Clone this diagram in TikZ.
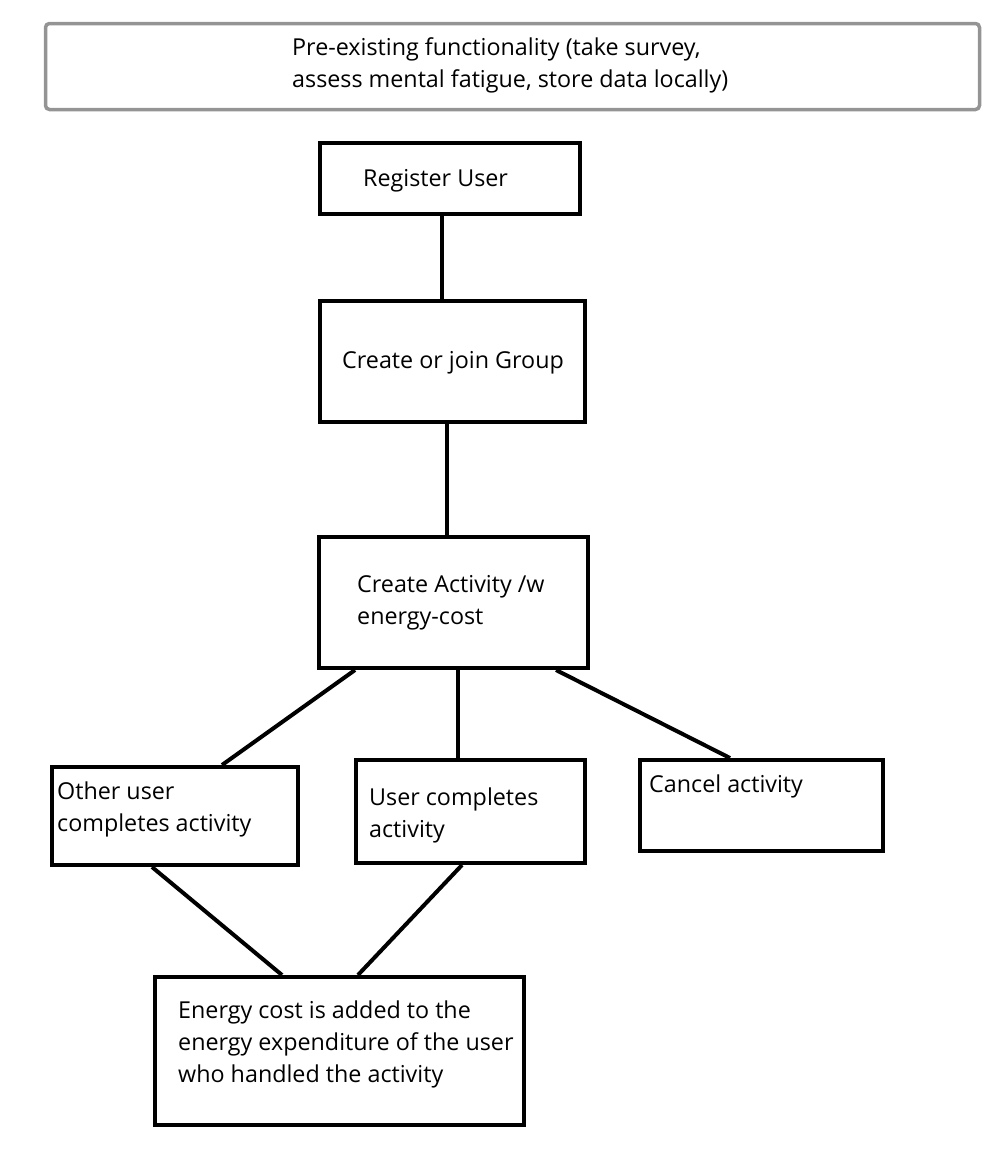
\documentclass[tikz,border=0pt]{standalone}
\usepackage{fontspec}
\setmainfont{Open Sans}
\begin{document}
\begin{tikzpicture}[x=1pt,y=-1pt,
  box/.style={draw=black, line width=4pt, fill=white, inner sep=0pt},
  topbox/.style={draw=black!42, line width=3.5pt, rounded corners=4pt, inner sep=0pt},
  lbl/.style={inner sep=0pt, align=left, font=\fontsize{23.3}{32}\selectfont, anchor=base west},
  link/.style={line width=4pt}]
  % canvas
  \useasboundingbox (0,0) rectangle (993,1154);

  % boxes
  \node[topbox, minimum width=934pt, minimum height=86pt] (pre) at (512.5,66.5) {};
  \node[box, minimum width=260pt, minimum height=71pt]  (reg) at (450,178.5) {};
  \node[box, minimum width=265pt, minimum height=121pt] (grp) at (452.5,361.5) {};
  \node[box, minimum width=269pt, minimum height=131pt] (act) at (453.5,602.5) {};
  \node[box, minimum width=246pt, minimum height=98pt]  (oth) at (175,816) {};
  \node[box, minimum width=229pt, minimum height=103pt] (usr) at (470.5,811.5) {};
  \node[box, minimum width=243pt, minimum height=91pt]  (can) at (761.5,805.5) {};
  \node[box, minimum width=369pt, minimum height=148pt] (eng) at (339.5,1051) {};

  % labels (anchored at the baseline of their last line)
  \node[lbl] (pret) at (292,87) {Pre-existing functionality (take survey,\\assess mental fatigue, store data locally)};
  \node[lbl] (regt) at (363,186) {Register User};
  \node[lbl] (grpt) at (342,368) {Create or join Group};
  \node[lbl] (actt) at (357,624) {Create Activity /w\\energy-cost};
  \node[lbl] (otht) at (57,831) {Other user\\completes activity};
  \node[lbl] (usrt) at (369,837) {User completes\\activity};
  \node[lbl] (cant) at (649,792) {Cancel activity};
  \node[lbl] (engt) at (178,1082) {Energy cost is added to the\\energy expenditure of the user\\who handled the activity};

  % connectors
  \draw[link] ([xshift=-8pt]reg.south) -- ([xshift=-8pt]reg.south |- grp.north);
  \draw[link] ([xshift=-5.5pt]grp.south) -- ([xshift=-5.5pt]grp.south |- act.north);
  \draw[link] ([xshift=-98.5pt]act.south) -- ([xshift=47pt]oth.north);
  \draw[link] ([xshift=4.5pt]act.south) -- ([xshift=4.5pt]act.south |- usr.north);
  \draw[link] ([xshift=102.5pt]act.south) -- ([xshift=-31.5pt]can.north);
  \draw[link] ([xshift=-23pt]oth.south) -- ([xshift=-57.5pt]eng.north);
  \draw[link] ([xshift=-8.5pt]usr.south) -- ([xshift=18.5pt]eng.north);
\end{tikzpicture}
\end{document}
